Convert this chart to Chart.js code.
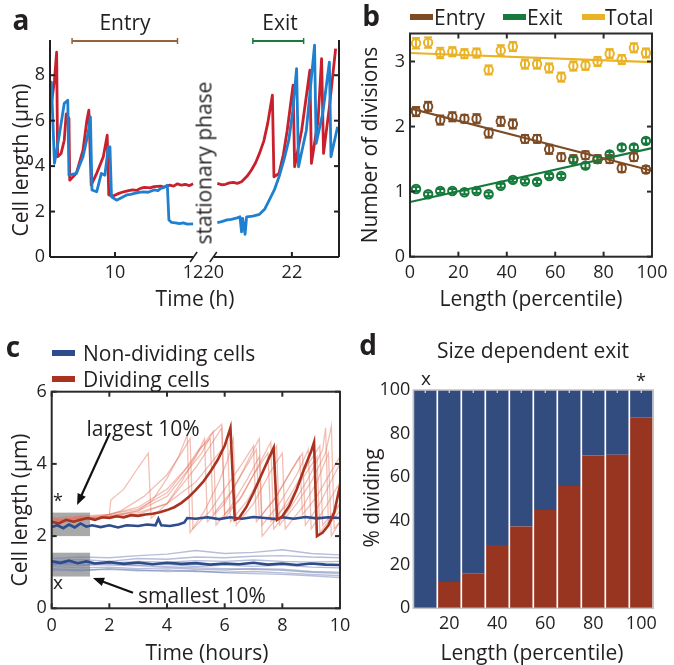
<!DOCTYPE html>
<html>
<head>
<meta charset="utf-8">
<title>Cell size and division</title>
<script src="https://cdn.jsdelivr.net/npm/chart.js@4.4.1/dist/chart.umd.min.js"></script>
<style>
  body { margin: 0; background: #fff; }
  #fig { position: relative; width: 674px; height: 665px; overflow: hidden;
         font-family: "Open Sans", sans-serif; color: #231f20; }
  #fig canvas { position: absolute; left: 0; top: 0; }
  .txt { position: absolute; white-space: nowrap; line-height: 1; font-size: 21px; }
  .sw { position: absolute; height: 6px; width: 23px; }
</style>
</head>
<body>
<div id="fig">
  <canvas id="chartA" width="674" height="665"></canvas>
  <canvas id="chartB" width="674" height="665"></canvas>
  <canvas id="chartC" width="674" height="665"></canvas>
  <canvas id="chartD" width="674" height="665"></canvas>
</div>
<script>
"use strict";

// ---------- panel a : single cell traces (time in h, length in um)
const aRedLeftT = [8.36, 8.45, 8.505, 8.53, 8.62, 8.70, 8.75, 8.82, 8.84, 9.01, 9.18, 9.28, 9.33, 9.39, 9.53, 9.70, 9.80, 9.84, 9.95, 10.1, 10.22, 10.35, 10.45, 10.55, 10.65, 10.75, 10.9, 11.0, 11.17, 11.25, 11.4, 11.5, 11.6, 11.7, 11.8, 11.9, 12.0];
const aRedLeftY = [6.61, 7.78, 9.02, 4.41, 4.56, 5.14, 6.3, 6.1, 3.38, 3.68, 4.70, 6.02, 6.46, 3.16, 3.68, 4.41, 5.36, 2.73, 2.68, 2.8, 2.87, 2.92, 2.95, 2.93, 3.02, 3.06, 3.04, 3.1, 3.12, 3.08, 3.16, 3.12, 3.22, 3.16, 3.2, 3.14, 3.22];
const aBlueLeftT = [8.345, 8.37, 8.45, 8.58, 8.70, 8.79, 8.82, 9.01, 9.18, 9.31, 9.37, 9.41, 9.53, 9.65, 9.74, 9.83, 9.87, 9.91, 10.04, 10.15, 10.3, 10.4, 10.5, 10.62, 10.73, 10.85, 11.0, 11.1, 11.17, 11.26, 11.34, 11.38, 11.45, 11.55, 11.65, 11.75, 11.85, 12.0];
const aBlueLeftY = [7.0, 7.7, 4.12, 5.44, 6.76, 6.9, 3.6, 3.68, 4.41, 5.44, 6.17, 2.95, 2.87, 3.68, 3.6, 4.85, 4.85, 2.65, 2.5, 2.6, 2.73, 2.76, 2.8, 2.84, 2.87, 2.85, 2.95, 2.92, 3.02, 3.06, 3.16, 1.63, 1.52, 1.5, 1.47, 1.5, 1.45, 1.46];
const aRedRightT = [20.09, 20.2, 20.3, 20.4, 20.5, 20.6, 20.71, 20.85, 20.96, 21.07, 21.17, 21.28, 21.38, 21.50, 21.54, 21.67, 21.78, 21.88, 22.03, 22.07, 22.25, 22.46, 22.50, 22.67, 22.76, 22.81, 22.96, 23.12];
const aRedRightY = [3.24, 3.18, 3.2, 3.26, 3.28, 3.24, 3.31, 3.55, 3.82, 4.15, 4.56, 5.1, 5.88, 7.12, 3.53, 3.68, 4.5, 5.58, 7.56, 3.97, 5.58, 8.22, 4.12, 6.02, 8.73, 4.56, 6.61, 9.17];
const aBlueRightT = [20.09, 20.2, 20.34, 20.45, 20.6, 20.67, 20.71, 20.74, 20.8, 20.84, 21.0, 21.17, 21.3, 21.42, 21.55, 21.67, 21.8, 21.92, 22.02, 22.12, 22.17, 22.37, 22.58, 22.62, 22.79, 22.96, 23.0, 23.17];
const aBlueRightY = [1.51, 1.56, 1.63, 1.66, 1.72, 1.77, 1.11, 1.7, 1.0, 1.77, 1.8, 1.88, 2.1, 2.5, 2.95, 3.53, 4.3, 5.14, 6.4, 8.29, 3.97, 5.58, 9.32, 5.0, 6.32, 8.58, 4.41, 5.73];
const aTickTimes = [10, 12, 20, 22];
const aYTicks = [0, 2, 4, 6, 8];
const aEntryRange = [8.9, 11.6];
const aExitRange = [21.0, 22.3];

// ---------- panel b : divisions vs length percentile
const bX = [2.5, 7.5, 12.5, 17.5, 22.5, 27.5, 32.5, 37.5, 42.5, 47.5, 52.5, 57.5, 62.5, 67.5, 72.5, 77.5, 82.5, 87.5, 92.5, 97.5];
const bEntry = [2.23, 2.31, 2.10, 2.15, 2.12, 2.12, 1.90, 2.08, 2.04, 1.81, 1.81, 1.65, 1.53, 1.50, 1.56, 1.50, 1.50, 1.36, 1.53, 1.34];
const bExit = [1.04, 0.96, 1.01, 1.01, 0.99, 1.01, 0.96, 1.09, 1.18, 1.16, 1.15, 1.24, 1.24, 1.49, 1.40, 1.50, 1.57, 1.68, 1.68, 1.78];
const bTotal = [3.28, 3.29, 3.13, 3.15, 3.12, 3.13, 2.87, 3.17, 3.23, 2.96, 2.96, 2.90, 2.76, 2.93, 2.94, 3.00, 3.12, 3.03, 3.21, 3.13];
const bEntryErr = [0.07, 0.07, 0.07, 0.07, 0.06, 0.07, 0.07, 0.07, 0.07, 0.06, 0.06, 0.07, 0.06, 0.06, 0.06, 0.06, 0.06, 0.06, 0.06, 0.05];
const bExitErr = [0.03, 0.03, 0.03, 0.03, 0.03, 0.03, 0.03, 0.03, 0.03, 0.03, 0.03, 0.03, 0.03, 0.04, 0.04, 0.04, 0.04, 0.04, 0.04, 0.04];
const bTotalErr = [0.08, 0.08, 0.08, 0.07, 0.07, 0.07, 0.07, 0.08, 0.07, 0.07, 0.07, 0.07, 0.07, 0.07, 0.07, 0.07, 0.07, 0.07, 0.07, 0.07];
const bFitX = [0, 100];
const bEntryFit = [2.28, 1.32];
const bExitFit = [0.84, 1.67];
const bTotalFit = [3.13, 2.99];
const bXTicks = [0, 20, 40, 60, 80, 100];
const bYTicks = [0, 1, 2, 3];

// ---------- panel c : traces of the smallest / largest 10 %
const cDarkRed = [[0,2.4],[0.25,2.35],[0.5,2.45],[0.75,2.4],[1,2.45],[1.25,2.5],[1.5,2.45],[1.75,2.52],[2,2.5],[2.25,2.55],[2.5,2.52],[2.75,2.58],[3,2.56],[3.25,2.6],[3.5,2.62],[3.75,2.66],[4,2.72],[4.25,2.8],[4.5,2.92],[4.75,3.08],[5,3.28],[5.25,3.5],[5.5,3.78],[5.75,4.1],[6,4.5],[6.2,5.0],[6.35,2.45],[6.5,2.5],[6.75,2.8],[7,3.2],[7.25,3.65],[7.5,4.1],[7.7,4.45],[7.82,2.45],[8,2.55],[8.25,2.85],[8.5,3.3],[8.75,3.85],[9,4.35],[9.1,4.6],[9.2,2.0],[9.4,2.1],[9.6,2.3],[9.8,2.65],[10,3.4]];
const cDarkBlueHigh = [[0,2.25],[0.2,2.3],[0.4,2.22],[0.6,2.32],[0.8,2.24],[1,2.35],[1.2,2.26],[1.4,2.3],[1.7,2.25],[2,2.3],[2.3,2.24],[2.6,2.3],[3,2.28],[3.3,2.32],[3.6,2.3],[3.7,2.48],[3.8,2.3],[4.1,2.28],[4.4,2.32],[4.6,2.38],[4.7,2.5],[5,2.48],[5.4,2.52],[5.8,2.47],[6.2,2.52],[6.6,2.48],[7,2.53],[7.4,2.5],[7.8,2.47],[8,2.52],[8.4,2.48],[8.8,2.53],[9.2,2.49],[9.6,2.52],[10,2.5]];
const cDarkBlueLow = [[0,1.3],[0.3,1.26],[0.6,1.32],[0.9,1.25],[1.2,1.3],[1.5,1.24],[2,1.28],[2.5,1.23],[3,1.27],[3.5,1.22],[4,1.26],[4.5,1.23],[5,1.25],[5.5,1.21],[6,1.24],[6.5,1.22],[7,1.26],[7.5,1.21],[8,1.24],[8.5,1.2],[9,1.24],[9.5,1.21],[10,1.2]];
const cLightRed = [
  [[0,2.5],[0.5,2.45],[1,2.55],[1.5,2.5],[2,2.6],[2.05,3.0],[2.5,3.3],[3.0,3.9],[3.35,4.3],[3.45,2.5],[4,2.9],[4.5,3.5],[5,4.2],[5.3,4.7],[5.4,2.4],[6,2.9],[6.5,3.6],[7,4.4],[7.2,4.7],[7.3,2.3],[7.9,2.9],[8.5,3.7],[8.9,4.4],[9.0,2.2],[9.5,2.8],[10,3.5]],
  [[0,2.4],[1,2.5],[2,2.55],[3,2.7],[3.5,3.0],[4,3.6],[4.4,4.2],[4.7,4.8],[4.8,2.1],[5.3,2.7],[5.8,3.5],[6.1,4.1],[6.3,4.7],[6.4,2.3],[7,2.9],[7.6,3.8],[8.0,4.3],[8.1,2.2],[8.7,2.8],[9.2,3.5],[9.6,4.3],[9.7,2.0],[10,2.4]],
  [[0,2.45],[1,2.5],[2,2.6],[3,2.8],[4,3.3],[4.8,4.0],[5.5,4.8],[5.9,5.1],[6.0,2.5],[6.6,3.1],[7.2,4.0],[7.6,4.6],[7.7,2.2],[8.3,2.8],[8.9,3.6],[9.4,4.4],[9.5,5.0],[9.6,2.3],[10,2.7]],
  [[0,2.35],[1,2.45],[2,2.5],[3,2.6],[4,2.9],[4.5,3.4],[5,3.9],[5.5,4.5],[5.9,5.0],[6.0,2.6],[6.5,3.0],[7,3.7],[7.5,4.3],[7.6,2.4],[8.2,2.9],[8.7,3.6],[9.2,4.2],[9.3,2.1],[9.8,2.6],[10,2.9]],
  [[0,2.4],[1,2.45],[2,2.55],[3,2.7],[4,3.1],[4.6,3.7],[5.2,4.3],[5.6,4.9],[5.7,2.3],[6.2,2.8],[6.8,3.6],[7.2,4.2],[7.3,2.0],[7.8,2.5],[8.4,3.3],[8.9,4.0],[9.3,4.5],[9.4,2.3],[10,2.9]],
  [[0,2.5],[1,2.55],[2,2.6],[3,2.75],[4,3.2],[4.6,3.8],[5.1,4.4],[5.5,4.7],[5.6,2.6],[6.2,3.2],[6.8,4.0],[7.1,4.4],[7.2,2.5],[7.8,3.1],[8.3,3.8],[8.6,4.2],[8.7,2.6],[9.2,3.1],[9.7,3.8],[10,4.2]],
  [[0,2.45],[1,2.5],[2,2.55],[3,2.65],[4,2.9],[5,3.5],[5.8,4.3],[6.1,4.6],[6.2,2.4],[6.8,3.0],[7.4,3.9],[7.8,4.5],[7.9,2.3],[8.5,2.9],[9,3.5],[9.5,4.3],[9.7,5.05],[9.8,2.2],[10,2.4]],
  [[0,2.4],[0.8,2.5],[1.6,2.5],[2.4,2.7],[3.2,3.1],[4,3.7],[4.5,4.3],[4.8,4.7],[4.9,2.2],[5.5,2.7],[6,3.3],[6.6,4.0],[7,4.5],[7.1,2.4],[7.7,3.0],[8.3,3.8],[8.7,4.3],[8.8,2.3],[9.3,2.9],[9.8,3.7],[10,4.0]]
];
const cLightBlue = [
  [[0,1.38],[1,1.42],[2,1.4],[3,1.46],[4,1.5],[5,1.6],[6,1.52],[7,1.55],[8,1.62],[9,1.52],[10,1.48]],
  [[0,1.32],[1,1.35],[2,1.3],[3,1.38],[4,1.36],[5,1.42],[6,1.4],[7,1.44],[8,1.46],[9,1.42],[10,1.4]],
  [[0,1.22],[1,1.18],[2,1.24],[3,1.2],[4,1.22],[5,1.16],[6,1.2],[7,1.16],[8,1.2],[9,1.14],[10,1.12]],
  [[0,1.16],[1,1.12],[2,1.14],[3,1.1],[4,1.12],[5,1.08],[6,1.06],[7,1.1],[8,1.08],[9,1.02],[10,1.0]],
  [[0,1.1],[1,1.06],[2,1.08],[3,1.04],[4,1.06],[5,1.02],[6,1.0],[7,1.02],[8,0.98],[9,0.94],[10,0.9]],
  [[0,1.26],[1,1.22],[2,1.2],[3,1.18],[4,1.15],[5,1.12],[6,1.1],[7,1.08],[8,1.05],[9,1.0],[10,0.96]],
  [[0,1.06],[1,1.04],[2,1.1],[3,1.06],[4,1.02],[5,1.04],[6,0.98],[7,0.96],[8,0.94],[9,0.9],[10,0.85]],
  [[0,1.2],[1,1.28],[2,1.25],[3,1.3],[4,1.28],[5,1.32],[6,1.3],[7,1.34],[8,1.3],[9,1.28],[10,1.3]]
];
const cBoxT = [0, 1.33];
const cBoxHigh = [2.0, 2.65];
const cBoxLow = [0.88, 1.54];
const cArrowLarge = [[2.02, 4.86], [0.88, 2.86]];
const cArrowSmall = [[2.82, 0.43], [1.43, 0.84]];
const cXTicks = [0, 2, 4, 6, 8, 10];
const cYTicks = [0, 2, 4, 6];

// ---------- panel d : % dividing per length decile
const dLabels = ["10", "20", "30", "40", "50", "60", "70", "80", "90", "100"];
const dDividing = [0, 12, 16, 29, 37.5, 45, 56, 70, 70.3, 87.5];
const dNonDividing = [100, 88, 84, 71, 62.5, 55, 44, 30, 29.7, 12.5];
const dYTicks = [0, 20, 40, 60, 80, 100];

// ---------- colours
const INK = "#231f20";
const A_RED = "#c8202c", A_BLUE = "#1f80cf";
const B_BROWN = "#7e4c24", B_GREEN = "#157a3b", B_YELLOW = "#eab225";
const C_BLUE = "#2e4b8b", C_RED = "#a93320";
const C_LRED = "rgba(226,112,92,0.45)", C_LBLUE = "rgba(110,125,180,0.5)";
const D_BLUE = "#334c7f", D_RED = "#983520";

Chart.defaults.font.family = '"Open Sans", sans-serif';
Chart.defaults.color = INK;
Chart.defaults.animation = false;
Chart.defaults.plugins.legend.display = false;
Chart.defaults.plugins.tooltip.enabled = false;

// broken time axis of panel a: 12 h joins 20 h with a small gap
const BREAK_GAP = 0.53;
const brk = t => (t < 16 ? t : t - 20 + 12 + BREAK_GAP);

const pts = (xs, ys) => xs.map((x, i) => ({ x: x, y: ys[i] }));
const pairs = arr => arr.map(p => ({ x: p[0], y: p[1] }));

function seg(ctx, x1, y1, x2, y2) {
  ctx.beginPath();
  ctx.moveTo(x1, y1);
  ctx.lineTo(x2, y2);
  ctx.stroke();
}

function tickFont(pad, extra) {
  return Object.assign({ font: { size: 18 }, color: INK, padding: pad, autoSkip: false, maxRotation: 0 }, extra || {});
}

function axis(min, max, ticks, fit, pad, extra) {
  return Object.assign({
    type: "linear", min: min, max: max,
    grid: { display: false, drawTicks: false }, border: { display: false },
    afterBuildTicks: s => { s.ticks = ticks.map(v => ({ value: v })); },
    afterFit: fit,
    ticks: tickFont(pad)
  }, extra || {});
}

function drawBox(chart, xTicks, yTicks, color, width, len) {
  const { ctx, chartArea: a, scales: { x, y } } = chart;
  ctx.save();
  ctx.strokeStyle = color;
  ctx.lineWidth = width;
  ctx.strokeRect(a.left, a.top, a.right - a.left, a.bottom - a.top);
  xTicks.forEach(v => {
    const px = x.getPixelForValue(v);
    seg(ctx, px, a.bottom, px, a.bottom - len);
    seg(ctx, px, a.top, px, a.top + len);
  });
  yTicks.forEach(v => {
    const py = y.getPixelForValue(v);
    seg(ctx, a.left, py, a.left + len, py);
    seg(ctx, a.right, py, a.right - len, py);
  });
  ctx.restore();
}

// ================= panel a
new Chart(document.getElementById("chartA"), {
  type: "line",
  data: {
    datasets: [
      { data: pts(aBlueLeftT.map(brk), aBlueLeftY), borderColor: A_BLUE },
      { data: pts(aBlueRightT.map(brk), aBlueRightY), borderColor: A_BLUE },
      { data: pts(aRedLeftT.map(brk), aRedLeftY), borderColor: A_RED },
      { data: pts(aRedRightT.map(brk), aRedRightY), borderColor: A_RED }
    ]
  },
  options: {
    responsive: false,
    layout: { padding: { left: 20, right: 335, top: 40, bottom: 378 } },
    elements: { point: { radius: 0 }, line: { borderWidth: 2.8, tension: 0, borderJoinStyle: "round" } },
    scales: {
      x: axis(8.335, 15.736, aTickTimes.map(brk), s => { s.height = 30; }, 5,
        { ticks: tickFont(5, { callback: (v, i) => String(aTickTimes[i]) }) }),
      y: axis(0, 9.55, aYTicks, s => { s.width = 30; }, 5)
    }
  },
  plugins: [{
    id: "frameA",
    afterDatasetsDraw(chart) {
      const { ctx, chartArea: a, scales: { x, y } } = chart;
      ctx.save();
      ctx.strokeStyle = INK;
      ctx.lineWidth = 2;
      seg(ctx, a.left, a.top, a.left, a.bottom);
      seg(ctx, a.right, a.top, a.right, a.bottom);
      const b1 = x.getPixelForValue(brk(12)), b2 = x.getPixelForValue(brk(20));
      seg(ctx, a.left, a.bottom, b1, a.bottom);
      seg(ctx, b2, a.bottom, a.right, a.bottom);
      ctx.lineWidth = 1.5;
      seg(ctx, b1 - 3, a.bottom + 5, b1 + 4, a.bottom - 5);
      seg(ctx, b2 - 4, a.bottom + 5, b2 + 3, a.bottom - 5);
      ctx.lineWidth = 2;
      aYTicks.slice(1).forEach(v => {
        const py = y.getPixelForValue(v);
        seg(ctx, a.left, py, a.left + 5, py);
        seg(ctx, a.right, py, a.right - 5, py);
      });
      [10, 22].forEach(t => {
        const px = x.getPixelForValue(brk(t));
        seg(ctx, px, a.bottom, px, a.bottom - 5);
      });
      // entry / exit ranges
      const bar = (r, col) => {
        const p1 = x.getPixelForValue(brk(r[0])), p2 = x.getPixelForValue(brk(r[1]));
        const yy = a.top + 1;
        ctx.strokeStyle = col;
        ctx.lineWidth = 2;
        seg(ctx, p1, yy, p2, yy);
        ctx.lineWidth = 1.5;
        seg(ctx, p1, yy - 3, p1, yy + 3);
        seg(ctx, p2, yy - 3, p2, yy + 3);
      };
      bar(aEntryRange, "#94653d");
      bar(aExitRange, "#1d7a3e");
      ctx.restore();
    }
  }]
});

// ================= panel b
const bSeries = [
  { y: bTotal, err: bTotalErr, fit: bTotalFit, col: B_YELLOW },
  { y: bEntry, err: bEntryErr, fit: bEntryFit, col: B_BROWN },
  { y: bExit, err: bExitErr, fit: bExitFit, col: B_GREEN }
];
const bDatasets = [];
bSeries.forEach(s => {
  bDatasets.push({ type: "scatter", data: pts(bX, s.y), borderColor: s.col, backgroundColor: "rgba(0,0,0,0)",
                   pointRadius: 4.2, pointBorderWidth: 2, showLine: false });
  bDatasets.push({ type: "line", data: pts(bFitX, s.fit), borderColor: s.col, borderWidth: 2.2, pointRadius: 0 });
});
new Chart(document.getElementById("chartB"), {
  type: "scatter",
  data: { datasets: bDatasets },
  options: {
    responsive: false,
    layout: { padding: { left: 380, right: 22, top: 33.5, bottom: 378.3 } },
    scales: {
      x: axis(0, 100, bXTicks, s => { s.height = 30; }, 5),
      y: axis(0, 3.43, bYTicks, s => { s.width = 30; }, 5)
    }
  },
  plugins: [{
    id: "errB",
    afterDatasetsDraw(chart) {
      const { ctx, scales: { x, y } } = chart;
      ctx.save();
      ctx.lineWidth = 2;
      bSeries.forEach(s => {
        ctx.strokeStyle = s.col;
        bX.forEach((xv, i) => {
          const px = x.getPixelForValue(xv);
          const lo = y.getPixelForValue(s.y[i] - s.err[i]), hi = y.getPixelForValue(s.y[i] + s.err[i]);
          seg(ctx, px, lo, px, hi);
          seg(ctx, px - 4, lo, px + 4, lo);
          seg(ctx, px - 4, hi, px + 4, hi);
        });
      });
      ctx.restore();
      drawBox(chart, bXTicks, bYTicks, "#2b2b2b", 2, 5);
    }
  }]
});

// ================= panel c
const cDatasets = [
  { data: pairs(cDarkRed), borderColor: C_RED, borderWidth: 2.6 },
  { data: pairs(cDarkBlueHigh), borderColor: C_BLUE, borderWidth: 2.6 },
  { data: pairs(cDarkBlueLow), borderColor: C_BLUE, borderWidth: 2.6 }
];
cLightBlue.forEach(tr => cDatasets.push({ data: pairs(tr), borderColor: C_LBLUE, borderWidth: 1.4 }));
cLightRed.forEach(tr => cDatasets.push({ data: pairs(tr), borderColor: C_LRED, borderWidth: 1.3 }));

function arrow(ctx, x, y, seg2) {
  const x1 = x.getPixelForValue(seg2[0][0]), y1 = y.getPixelForValue(seg2[0][1]);
  const x2 = x.getPixelForValue(seg2[1][0]), y2 = y.getPixelForValue(seg2[1][1]);
  const ang = Math.atan2(y2 - y1, x2 - x1);
  ctx.lineWidth = 2.2;
  seg(ctx, x1, y1, x2 - 8 * Math.cos(ang), y2 - 8 * Math.sin(ang));
  ctx.beginPath();
  ctx.moveTo(x2, y2);
  ctx.lineTo(x2 - 12 * Math.cos(ang - 0.38), y2 - 12 * Math.sin(ang - 0.38));
  ctx.lineTo(x2 - 12 * Math.cos(ang + 0.38), y2 - 12 * Math.sin(ang + 0.38));
  ctx.closePath();
  ctx.fill();
}

new Chart(document.getElementById("chartC"), {
  type: "line",
  data: { datasets: cDatasets },
  options: {
    responsive: false,
    layout: { padding: { left: 21.7, right: 334, top: 391.7, bottom: 26.7 } },
    elements: { point: { radius: 0 }, line: { tension: 0 } },
    scales: {
      x: axis(0, 10, cXTicks, s => { s.height = 30; }, 6.5),
      y: axis(0, 6, cYTicks, s => { s.width = 30; }, 5)
    }
  },
  plugins: [{
    id: "frameC",
    beforeDatasetsDraw(chart) {
      const { ctx, scales: { x, y } } = chart;
      ctx.save();
      ctx.fillStyle = "rgba(140,140,140,0.75)";
      [cBoxHigh, cBoxLow].forEach(b => {
        const x1 = x.getPixelForValue(cBoxT[0]), x2 = x.getPixelForValue(cBoxT[1]);
        const y1 = y.getPixelForValue(b[1]), y2 = y.getPixelForValue(b[0]);
        ctx.fillRect(x1, y1, x2 - x1, y2 - y1);
      });
      ctx.restore();
    },
    afterDatasetsDraw(chart) {
      const { ctx, scales: { x, y } } = chart;
      drawBox(chart, cXTicks, cYTicks, "#2b2b2b", 2, 5);
      ctx.save();
      ctx.strokeStyle = "#111";
      ctx.fillStyle = "#111";
      arrow(ctx, x, y, cArrowLarge);
      arrow(ctx, x, y, cArrowSmall);
      ctx.restore();
    }
  }]
});

// ================= panel d
new Chart(document.getElementById("chartD"), {
  type: "bar",
  data: {
    labels: dLabels,
    datasets: [
      { data: dDividing, backgroundColor: D_RED },
      { data: dNonDividing, backgroundColor: D_BLUE }
    ]
  },
  options: {
    responsive: false,
    layout: { padding: { left: 373.3, right: 20.7, top: 390, bottom: 26.7 } },
    datasets: { bar: { barPercentage: 0.93, categoryPercentage: 1 } },
    scales: {
      x: {
        stacked: true,
        grid: { display: false, drawTicks: false }, border: { display: false },
        afterFit: s => { s.height = 30; },
        ticks: tickFont(5, { callback: (v, i) => (i % 2 === 1 ? dLabels[i] : "") })
      },
      y: axis(0, 100, dYTicks, s => { s.width = 40; }, 3, { stacked: true })
    }
  },
  plugins: [{
    id: "frameD",
    afterDatasetsDraw(chart) {
      const { ctx, chartArea: a, scales: { x } } = chart;
      ctx.save();
      ctx.strokeStyle = "#c4c4c4";
      ctx.lineWidth = 1.5;
      ctx.strokeRect(a.left, a.top, a.right - a.left, a.bottom - a.top);
      dLabels.forEach((l, i) => {
        const px = x.getPixelForValue(i);
        seg(ctx, px, a.top, px, a.top + 3);
      });
      ctx.restore();
    }
  }]
});

// ================= text
const fig = document.getElementById("fig");
function addText(str, x, y, opt) {
  opt = opt || {};
  const el = document.createElement("div");
  el.className = "txt";
  el.textContent = str;
  el.style.left = x + "px";
  el.style.top = y + "px";
  if (opt.size) el.style.fontSize = opt.size + "px";
  if (opt.bold) el.style.fontWeight = "700";
  let tf = opt.left ? "translate(0,-50%)" : "translate(-50%,-50%)";
  if (opt.rot) tf += " rotate(-90deg)";
  el.style.transform = tf;
  fig.appendChild(el);
}
function swatch(col, x, y) {
  const el = document.createElement("div");
  el.className = "sw";
  el.style.background = col;
  el.style.left = x + "px";
  el.style.top = (y - 3) + "px";
  fig.appendChild(el);
}

const bold = { size: 28, bold: true };
addText("a", 21, 19, bold);
addText("Entry", 125, 22);
addText("Exit", 280, 22);
addText("Cell length (μm)", 20, 160, { rot: true });
addText("Time (h)", 195, 298);
addText("stationary phase", 204, 163, { rot: true });

addText("b", 371, 15, bold);
swatch(B_BROWN, 410, 17); addText("Entry", 434, 17, { left: true });
swatch(B_GREEN, 503, 17); addText("Exit", 527, 17, { left: true });
swatch(B_YELLOW, 582, 17); addText("Total", 605, 17, { left: true });
addText("Number of divisions", 369, 145, { rot: true });
addText("Length (percentile)", 531, 298);

addText("c", 13, 346, bold);
swatch(C_BLUE, 52, 353); addText("Non-dividing cells", 83, 353, { left: true });
swatch(C_RED, 52, 379); addText("Dividing cells", 83, 379, { left: true });
addText("Cell length (μm)", 19, 510, { rot: true });
addText("Time (hours)", 207, 652);
addText("largest 10%", 143, 428);
addText("smallest 10%", 202, 595);
addText("*", 58, 500, { size: 18 });
addText("x", 58, 582, { size: 19 });

addText("d", 368, 344, bold);
addText("Size dependent exit", 533, 350);
addText("x", 426, 378, { size: 19 });
addText("*", 641, 380, { size: 18 });
addText("% dividing", 371, 498, { rot: true });
addText("Length (percentile)", 532, 652);
</script>
</body>
</html>
